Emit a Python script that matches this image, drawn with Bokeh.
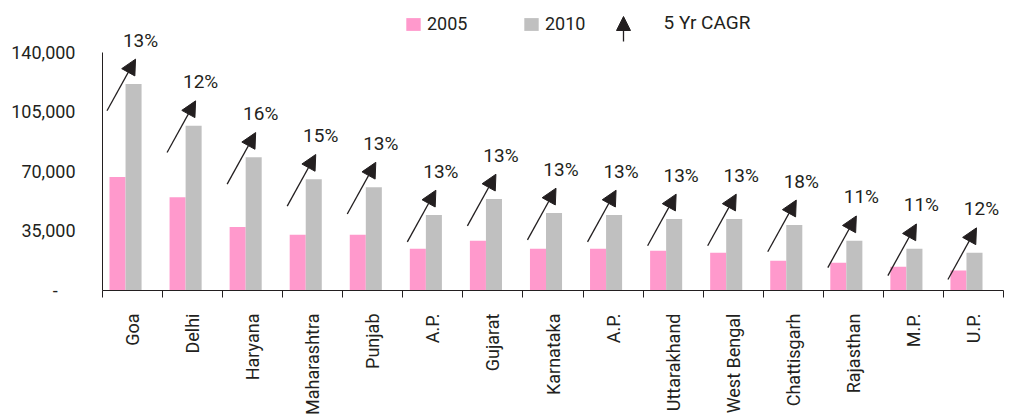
import math
from bokeh.plotting import figure
from bokeh.models import (ColumnDataSource, Range1d, FixedTicker, Arrow, NormalHead,
                          Legend, LegendItem, Label)
from bokeh.core.properties import value
from bokeh.embed import file_html
from bokeh.resources import INLINE

# ---------------- data ----------------
categories = ["Goa", "Delhi", "Haryana", "Maharashtra", "Punjab", "A.P.", "Gujarat",
              "Karnataka", "A.P.", "Uttarakhand", "West Bengal", "Chattisgarh",
              "Rajasthan", "M.P.", "U.P."]
sales_2005 = [66700, 54800, 37300, 32700, 32700, 24500, 29200, 24500, 24500, 23300,
              22200, 17500, 16300, 14000, 11700]
sales_2010 = [121300, 96800, 78200, 65300, 60700, 44300, 53700, 45500, 44300, 42000,
              42000, 38500, 29200, 24500, 22200]
cagr_labels = ["13%", "12%", "16%", "15%", "13%", "13%", "13%", "13%", "13%", "13%",
               "13%", "18%", "11%", "11%", "12%"]
y_ticks = [0, 35000, 70000, 105000, 140000]
y_tick_labels = ["-\u00a0\u00a0\u00a0\u00a0", "35,000", "70,000", "105,000", "140,000"]
series_names = ["2005", "2010", "5 Yr CAGR"]

# ---------------- style ----------------
FONT = "Roboto"
FS = "18px"
TEXT = "#231f20"
PINK = "#ff99cc"
GRAY = "#c0c0c0"

n = len(categories)
idx = list(range(n))
FRAME_H = 292
PX = 140000 / 240.0  # data units per pixel

src = ColumnDataSource(dict(
    x05=[i + 0.25 for i in idx],
    x10=[i + 0.517 for i in idx],
    v05=sales_2005,
    v10=sales_2010,
    xs=[i + 0.075 for i in idx],
    ys=[v - 27 * PX for v in sales_2010],
    xe=[i + 0.55 for i in idx],
    ye=[v + 25 * PX for v in sales_2010],
    lab=cagr_labels,
))

p = figure(width=1011, height=417, output_backend="svg", toolbar_location=None,
           x_range=Range1d(0, n), y_range=Range1d(0, FRAME_H * PX),
           min_border_left=102, min_border_right=8, min_border_top=0,
           min_border_bottom=125)
p.outline_line_color = None
p.grid.visible = False
p.background_fill_color = "white"
p.border_fill_color = "white"

r05 = p.vbar(x="x05", top="v05", width=0.267, source=src, fill_color=PINK,
             line_color=None)
r10 = p.vbar(x="x10", top="v10", width=0.267, source=src, fill_color=GRAY,
             line_color=None)

arrows = Arrow(end=NormalHead(size=15, fill_color=TEXT, line_color=TEXT, line_width=1),
               x_start="xs", y_start="ys", x_end="xe", y_end="ye", source=src,
               line_color=TEXT, line_width=1.3)
p.add_layout(arrows)

p.text(x="xe", y="ye", text="lab", source=src, x_offset=5, y_offset=-19,
       text_align="center", text_baseline="middle", text_font=value(FONT),
       text_font_size="19px", text_color=TEXT)

# y axis
ya = p.yaxis[0]
ya.ticker = FixedTicker(ticks=y_ticks)
ya.major_label_overrides = {t: l for t, l in zip(y_ticks, y_tick_labels)}
ya.bounds = (0, 140000)
ya.major_tick_out = 0
ya.major_tick_in = 0
ya.minor_tick_out = 0
ya.minor_tick_in = 0
ya.major_label_standoff = 27
ya.axis_line_color = TEXT
ya.major_label_text_font = FONT
ya.major_label_text_font_size = FS
ya.major_label_text_color = TEXT

# x axis
xa = p.xaxis[0]
xa.ticker = FixedTicker(ticks=[i + 0.5 for i in idx], minor_ticks=list(range(n + 1)))
xa.major_label_overrides = {i + 0.5: c for i, c in zip(idx, categories)}
xa.major_label_orientation = math.pi / 2
xa.major_tick_out = 0
xa.major_tick_in = 0
xa.minor_tick_out = 7
xa.minor_tick_in = 0
xa.minor_tick_line_color = TEXT
xa.axis_line_color = TEXT
xa.major_label_standoff = 16
xa.major_label_text_font = FONT
xa.major_label_text_font_size = FS
xa.major_label_text_color = TEXT

# legend
legend = Legend(items=[LegendItem(label=series_names[0], renderers=[r05]),
                       LegendItem(label=series_names[1], renderers=[r10])],
                orientation="horizontal", location=(302, 256),
                glyph_width=18, glyph_height=16, label_standoff=5, label_width=95,
                spacing=0, padding=0, margin=0, border_line_color=None,
                background_fill_alpha=0, label_text_font=FONT,
                label_text_font_size=FS, label_text_color=TEXT)
p.add_layout(legend)

p.add_layout(Arrow(end=NormalHead(size=14, fill_color=TEXT, line_color=TEXT),
                   x_start=521, y_start=249, x_end=521, y_end=274,
                   start_units="screen", end_units="screen",
                   line_color=TEXT, line_width=1.3))
p.add_layout(Label(x=561, y=268, x_units="screen", y_units="screen",
                   text=series_names[2], text_baseline="middle",
                   text_font=FONT, text_font_size="19px", text_color=TEXT))

open("out.html", "w").write(file_html(p, INLINE))
